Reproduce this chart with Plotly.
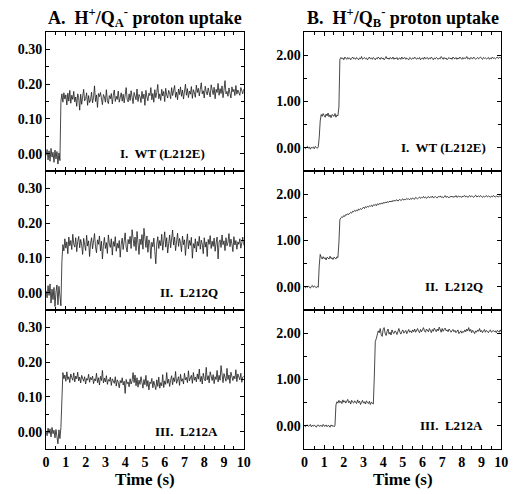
import numpy as np
import plotly.graph_objects as go

DT = 0.05  # sampling interval of the traces (s)

# ---- Panel A: H+/QA- proton uptake ----
qa_wt = [
    -0.005, 0.012, -0.018, 0.008, -0.022, 0.015, -0.010, 0.004, -0.025, 0.010, -0.015, 0.006, -0.030, 0.002, -0.020,
    0.150, 0.172, 0.148, 0.175, 0.157, 0.169, 0.140, 0.174, 0.151, 0.182,
    0.145, 0.168, 0.156, 0.179, 0.149, 0.163, 0.136, 0.172, 0.161, 0.125,
    0.171, 0.142, 0.166, 0.185, 0.152, 0.158, 0.175, 0.139, 0.167, 0.147,
    0.154, 0.177, 0.146, 0.162, 0.195, 0.150, 0.169, 0.133, 0.173, 0.164,
    0.176, 0.155, 0.141, 0.170, 0.163, 0.148, 0.184, 0.152, 0.144, 0.167,
    0.158, 0.173, 0.143, 0.168, 0.183, 0.150, 0.165, 0.156, 0.180, 0.148,
    0.162, 0.175, 0.151, 0.171, 0.146, 0.166, 0.190, 0.157, 0.149, 0.172,
    0.153, 0.181, 0.160, 0.144, 0.176, 0.168, 0.155, 0.186, 0.150, 0.170,
    0.164, 0.147, 0.179, 0.158, 0.171, 0.139, 0.182, 0.163, 0.152, 0.174,
    0.167, 0.190, 0.155, 0.173, 0.148, 0.184, 0.161, 0.176, 0.199, 0.158,
    0.172, 0.153, 0.185, 0.166, 0.179, 0.150, 0.188, 0.169, 0.160, 0.182,
    0.174, 0.158, 0.190, 0.167, 0.181, 0.196, 0.162, 0.177, 0.155, 0.186,
    0.170, 0.192, 0.165, 0.183, 0.157, 0.178, 0.200, 0.168, 0.187, 0.161,
    0.180, 0.171, 0.193, 0.159, 0.184, 0.175, 0.162, 0.197, 0.176, 0.188,
    0.166, 0.185, 0.204, 0.172, 0.181, 0.160, 0.194, 0.178, 0.169, 0.189,
    0.175, 0.163, 0.198, 0.182, 0.170, 0.191, 0.158, 0.185, 0.176, 0.202,
    0.168, 0.187, 0.173, 0.195, 0.161, 0.183, 0.210, 0.172, 0.179, 0.165,
    0.189, 0.174, 0.160, 0.192, 0.178, 0.185, 0.167, 0.196, 0.171, 0.183,
    0.176, 0.168, 0.190, 0.181, 0.172, 0.186,
]
qa_l212q = [
    0.005, -0.015, 0.020, -0.008, 0.025, -0.030, 0.010, -0.020, 0.015, -0.040, 0.002, 0.022, -0.035, 0.018, -0.010, -0.038,
    0.090, 0.138, 0.120, 0.155, 0.128, 0.146, 0.112, 0.160, 0.135, 0.150,
    0.124, 0.168, 0.140, 0.131, 0.158, 0.118, 0.147, 0.162, 0.129, 0.153,
    0.137, 0.110, 0.156, 0.143, 0.121, 0.165, 0.134, 0.149, 0.104, 0.142,
    0.158, 0.126, 0.145, 0.170, 0.132, 0.115, 0.152, 0.139, 0.163, 0.120,
    0.148, 0.097, 0.136, 0.159, 0.127, 0.144, 0.113, 0.166, 0.141, 0.130,
    0.155, 0.108, 0.147, 0.133, 0.161, 0.119, 0.142, 0.128, 0.150, 0.102,
    0.139, 0.157, 0.124, 0.146, 0.172, 0.131, 0.117, 0.153, 0.140, 0.162,
    0.127, 0.181, 0.145, 0.133, 0.160, 0.121, 0.176, 0.143, 0.110, 0.154,
    0.138, 0.167, 0.125, 0.185, 0.149, 0.130, 0.163, 0.116, 0.152, 0.141,
    0.098, 0.145, 0.132, 0.157, 0.119, 0.083, 0.140, 0.161, 0.127, 0.150,
    0.135, 0.168, 0.122, 0.147, 0.175, 0.131, 0.158, 0.114, 0.144, 0.166,
    0.129, 0.153, 0.180, 0.137, 0.160, 0.121, 0.148, 0.171, 0.133, 0.156,
    0.142, 0.118, 0.163, 0.138, 0.152, 0.107, 0.145, 0.169, 0.126, 0.150,
    0.136, 0.159, 0.099, 0.141, 0.128, 0.155, 0.117, 0.147, 0.134, 0.162,
    0.125, 0.151, 0.140, 0.112, 0.158, 0.131, 0.146, 0.104, 0.153, 0.139,
    0.164, 0.127, 0.148, 0.133, 0.157, 0.119, 0.143, 0.160, 0.097, 0.145,
    0.152, 0.130, 0.166, 0.138, 0.149, 0.121, 0.158, 0.135, 0.144, 0.170,
    0.132, 0.154, 0.140, 0.118, 0.161, 0.137, 0.150, 0.125, 0.146, 0.139,
    0.155, 0.128, 0.143, 0.160, 0.136,
]
qa_l212a = [
    0.002, -0.012, 0.010, -0.005, 0.008, -0.015, 0.012, -0.006, 0.004, -0.018, 0.006, -0.010, -0.035, 0.005, -0.020, 0.012,
    0.100, 0.170, 0.152, 0.163, 0.145, 0.172, 0.150, 0.158, 0.141, 0.166,
    0.155, 0.148, 0.169, 0.143, 0.160, 0.152, 0.171, 0.146, 0.157, 0.140,
    0.162, 0.150, 0.145, 0.158, 0.137, 0.153, 0.148, 0.165, 0.142, 0.156,
    0.149, 0.160, 0.138, 0.152, 0.146, 0.168, 0.141, 0.155, 0.134, 0.159,
    0.147, 0.176, 0.140, 0.154, 0.143, 0.161, 0.136, 0.150, 0.145, 0.157,
    0.133, 0.152, 0.146, 0.139, 0.158, 0.131, 0.149, 0.142, 0.126, 0.147,
    0.140, 0.155, 0.134, 0.145, 0.110, 0.150, 0.138, 0.143, 0.129, 0.152,
    0.137, 0.146, 0.170, 0.141, 0.163, 0.132, 0.155, 0.128, 0.148, 0.136,
    0.158, 0.140, 0.125, 0.150, 0.135, 0.162, 0.130, 0.147, 0.120, 0.143,
    0.138, 0.153, 0.126, 0.145, 0.133, 0.121, 0.149, 0.130, 0.157, 0.125,
    0.141, 0.132, 0.164, 0.127, 0.146, 0.136, 0.170, 0.139, 0.151, 0.130,
    0.148, 0.161, 0.135, 0.155, 0.144, 0.173, 0.139, 0.150, 0.158, 0.133,
    0.165, 0.145, 0.152, 0.137, 0.168, 0.149, 0.156, 0.141, 0.175, 0.146,
    0.153, 0.162, 0.139, 0.170, 0.148, 0.157, 0.143, 0.166, 0.151, 0.180,
    0.144, 0.159, 0.137, 0.168, 0.152, 0.146, 0.185, 0.149, 0.161, 0.140,
    0.172, 0.155, 0.147, 0.164, 0.138, 0.158, 0.150, 0.176, 0.143, 0.162,
    0.148, 0.190, 0.153, 0.141, 0.167, 0.156, 0.145, 0.182, 0.150, 0.163,
    0.139, 0.171, 0.158, 0.147, 0.160, 0.152, 0.178, 0.144, 0.166, 0.155,
    0.149, 0.168, 0.142, 0.157, 0.160,
]

# ---- Panel B: H+/QB- proton uptake ----
qb_wt = [
    0.00, -0.02, 0.01, 0.03, -0.01, 0.02, -0.03, 0.01, 0.00, 0.02, -0.02, 0.03, 0.01, -0.01, 0.02,
    0.22,
    0.58, 0.72, 0.68, 0.74, 0.70, 0.66, 0.73, 0.69, 0.75, 0.67, 0.71, 0.65, 0.72, 0.70, 0.68, 0.74, 0.66, 0.71, 0.69,
    0.88,
    1.91, 1.95, 1.92, 1.94, 1.90, 1.96, 1.93, 1.91, 1.95, 1.92,
    1.94, 1.90, 1.93, 1.96, 1.92, 1.94, 1.91, 1.95, 1.93, 1.90,
    1.94, 1.92, 1.97, 1.91, 1.93, 1.95, 1.92, 1.94, 1.90, 1.93,
    1.96, 1.92, 1.94, 1.91, 1.95, 1.93, 1.90, 1.94, 1.92, 1.96,
    1.93, 1.91, 1.95, 1.92, 1.94, 1.90, 1.93, 1.97, 1.92, 1.94,
    1.91, 1.95, 1.93, 1.92, 1.96, 1.91, 1.94, 1.92, 1.95, 1.90,
    1.93, 1.94, 1.91, 1.96, 1.92, 1.93, 1.95, 1.91, 1.94, 1.92,
    1.90, 1.95, 1.93, 1.91, 1.94, 1.92, 1.96, 1.93, 1.91, 1.94,
    1.92, 1.95, 1.90, 1.93, 1.94, 1.91, 1.96, 1.92, 1.93, 1.95,
    1.91, 1.94, 1.92, 1.96, 1.93, 1.90, 1.94, 1.92, 1.95, 1.93,
    1.91, 1.94, 1.92, 1.97, 1.93, 1.91, 1.95, 1.92, 1.94, 1.90,
    1.93, 1.95, 1.92, 1.94, 1.91, 1.96, 1.93, 1.92, 1.95, 1.91,
    1.94, 1.92, 1.96, 1.93, 1.91, 1.95, 1.92, 1.94, 1.93, 1.97,
    1.92, 1.94, 1.91, 1.95, 1.93, 1.92, 1.96, 1.94, 1.91, 1.93,
    1.95, 1.92, 1.94, 1.96, 1.93, 1.91, 1.95, 1.93, 1.94, 1.92,
    1.93, 1.95, 1.91, 1.94, 1.92, 1.96, 1.93, 1.94, 1.92, 1.95,
    1.96, 1.93, 1.95, 1.94, 1.95,
]
qb_l212q = [
    0.00, -0.02, 0.01, -0.01, 0.02, 0.00, -0.03, 0.01, 0.03, -0.01, 0.02, 0.00, -0.02, 0.01, -0.01,
    0.45,
    0.70, 0.64, 0.60, 0.65, 0.61, 0.63, 0.58, 0.64, 0.62, 0.60, 0.66, 0.61, 0.63, 0.59, 0.64, 0.62, 0.60, 0.65, 0.63,
    0.95,
    1.45,
    1.49, 1.51, 1.50, 1.54, 1.52, 1.56, 1.55, 1.58, 1.56, 1.59,
    1.61, 1.59, 1.63, 1.62, 1.65, 1.63, 1.66, 1.64, 1.68, 1.66,
    1.69, 1.67, 1.70, 1.72, 1.69, 1.73, 1.71, 1.74, 1.72, 1.75,
    1.74, 1.76, 1.73, 1.77, 1.76, 1.78, 1.75, 1.79, 1.77, 1.80,
    1.78, 1.81, 1.79, 1.82, 1.80, 1.83, 1.81, 1.84, 1.82, 1.83,
    1.85, 1.83, 1.86, 1.84, 1.87, 1.85, 1.86, 1.88, 1.85, 1.87,
    1.89, 1.86, 1.88, 1.90, 1.87, 1.89, 1.88, 1.91, 1.89, 1.90,
    1.88, 1.91, 1.89, 1.92, 1.90, 1.89, 1.93, 1.91, 1.90, 1.92,
    1.94, 1.91, 1.93, 1.92, 1.95, 1.92, 1.94, 1.91, 1.93, 1.95,
    1.92, 1.94, 1.93, 1.96, 1.92, 1.94, 1.95, 1.93, 1.92, 1.95,
    1.94, 1.96, 1.93, 1.95, 1.92, 1.94, 1.97, 1.93, 1.95, 1.94,
    1.92, 1.95, 1.94, 1.96, 1.93, 1.95, 1.94, 1.97, 1.93, 1.95,
    1.96, 1.94, 1.95, 1.93, 1.96, 1.95, 1.97, 1.94, 1.96, 1.93,
    1.95, 1.97, 1.94, 1.96, 1.95, 1.93, 1.96, 1.98, 1.94, 1.95,
    1.96, 1.94, 1.97, 1.95, 1.93, 1.96, 1.94, 1.95, 1.97, 1.94,
    1.96, 1.95, 1.93, 1.96, 1.94, 1.97, 1.95, 1.94, 1.96, 1.95,
    1.94, 1.96, 1.95, 1.97,
]
qb_l212a = [
    0.00, -0.02, 0.01, 0.02, -0.01, 0.00, 0.03, -0.02, 0.01, -0.01, 0.02, 0.00, -0.03, 0.01, 0.02, -0.01,
    0.00, 0.01, -0.02, 0.03, 0.00, -0.01, 0.02, -0.02, 0.01, 0.00, -0.03, 0.02, -0.01, 0.01, -0.02, 0.00,
    0.45, 0.52, 0.49, 0.55, 0.50, 0.53, 0.48, 0.56, 0.51, 0.54, 0.49, 0.52, 0.57, 0.50, 0.53, 0.47, 0.55, 0.51, 0.49, 0.54,
    0.52, 0.48, 0.56, 0.50, 0.53, 0.46, 0.51, 0.55, 0.49, 0.52, 0.47, 0.54, 0.50, 0.48, 0.53, 0.46, 0.51, 0.49, 0.47,
    1.05,
    1.82,
    1.88, 1.98, 2.05, 2.01, 2.10, 1.97, 1.93, 2.08, 2.12, 2.00,
    1.95, 2.04, 2.09, 1.98, 2.02, 1.96, 2.07, 2.01, 1.99, 2.05,
    2.03, 1.97, 2.06, 2.10, 2.02, 1.98, 2.04, 2.07, 2.00, 2.03,
    2.06, 1.99, 2.04, 2.08, 2.02, 2.05, 2.01, 2.07, 2.03, 2.09,
    2.02, 2.06, 2.10, 2.04, 2.01, 2.08, 2.03, 2.07, 2.12, 2.05,
    2.02, 2.09, 2.06, 2.03, 2.10, 2.05, 2.01, 2.08, 2.04, 2.11,
    2.07, 2.03, 2.09, 2.05, 2.13, 2.06, 2.02, 2.10, 2.04, 2.08,
    2.11, 2.05, 2.07, 2.03, 2.09, 2.06, 2.02, 2.05, 2.08, 2.03,
    2.06, 2.01, 2.04, 2.07, 1.99, 2.03, 2.05, 2.00, 2.04, 2.02,
    2.07, 2.03, 2.09, 2.05, 2.12, 2.04, 2.08, 2.01, 2.06, 2.03,
    1.99, 2.05, 2.02, 2.07, 2.04, 2.10, 2.03, 2.06, 2.01, 2.05,
    2.08, 2.02, 2.06, 2.04, 2.01, 2.05, 2.07, 2.02, 2.04, 2.06,
    2.03, 2.05, 2.01, 2.06, 2.04, 2.02, 2.07, 2.03,
]

panel_labels_a = ["I.  WT (L212E)", "II.  L212Q", "III.  L212A"]
panel_labels_b = ["I.  WT (L212E)", "II.  L212Q", "III.  L212A"]
title_a = "A.  H<sup>+</sup>/Q<sub>A</sub><sup>-</sup> proton uptake"
title_b = "B.  H<sup>+</sup>/Q<sub>B</sub><sup>-</sup> proton uptake"
x_title = "Time (s)"
x_ticks = list(range(0, 11))
ya_ticks = [0.0, 0.1, 0.2, 0.3]
yb_ticks = [0.0, 1.0, 2.0]

W, H = 517, 494
FONT = "Liberation Serif"

def px_x(p):
    return p / W

def px_y(p):
    return 1 - p / H

col_dom = [[px_x(43), px_x(245)], [px_x(307), px_x(508)]]
row_px = [(32, 171), (171, 310), (310, 449)]
row_dom = [[px_y(b), px_y(t)] for t, b in row_px]
# label anchor (right edge, in data x) per [row][col]
label_right = [[8.15, 9.35], [8.8, 9.2], [8.8, 9.2]]

fig = go.Figure()
series = [[qa_wt, qb_wt], [qa_l212q, qb_l212q], [qa_l212a, qb_l212a]]
labels = [panel_labels_a, panel_labels_b]

tickfont = dict(family=FONT, size=14, color="black", weight="bold")
idx = 0
for r in range(3):
    for c in range(2):
        idx += 1
        xa = "x" if idx == 1 else f"x{idx}"
        ya = "y" if idx == 1 else f"y{idx}"
        ys = series[r][c]
        t = np.arange(len(ys)) * DT
        fig.add_trace(go.Scatter(x=t, y=ys, mode="lines",
                                 line=dict(color="#1a1a1a", width=0.8),
                                 xaxis=xa, yaxis=ya, showlegend=False,
                                 hoverinfo="skip"))
        xkey = "xaxis" if idx == 1 else f"xaxis{idx}"
        ykey = "yaxis" if idx == 1 else f"yaxis{idx}"
        xdict = dict(
            domain=col_dom[c], anchor=ya, range=[0, 10],
            tickmode="array", tickvals=x_ticks, ticklabeloverflow="allow",
            showticklabels=(r == 2), ticks="inside", ticklen=4, tickwidth=1,
            tickcolor="black", minor=dict(dtick=0.5, ticks="inside", ticklen=3, tickcolor="black"),
            showline=True, linecolor="black", linewidth=1, mirror="allticks",
            showgrid=False, zeroline=False, tickfont=tickfont,
        )
        if r == 2:
            xdict["title"] = dict(text=x_title,
                                  font=dict(family=FONT, size=17, color="black", weight="bold"),
                                  standoff=2)
        fig.layout[xkey] = xdict
        if c == 0:
            yr, yt, ymin = [-0.05, 0.35], ya_ticks, 0.05
        else:
            yr, yt, ymin = [-0.5, 2.5], yb_ticks, 0.5
        ttxt = [f"{v:.2f}" for v in yt]
        fig.layout[ykey] = dict(
            domain=row_dom[r], anchor=xa, range=yr,
            tickmode="array", tickvals=yt, ticktext=ttxt, ticklabeloverflow="allow",
            ticks="inside", ticklen=4, tickwidth=1, tickcolor="black",
            minor=dict(dtick=ymin, ticks="inside", ticklen=3, tickcolor="black"),
            showline=True, linecolor="black", linewidth=1, mirror="allticks",
            showgrid=False, zeroline=False, tickfont=tickfont,
        )
        fig.add_annotation(x=label_right[r][c], y=0.0, xref=xa, yref=ya, text=labels[c][r],
                           showarrow=False, xanchor="right", yanchor="middle",
                           font=dict(family=FONT, size=13, color="black", weight="bold"))

fig.add_annotation(x=(col_dom[0][0] + col_dom[0][1]) / 2, y=px_y(17), xref="paper", yref="paper",
                   text=title_a, showarrow=False, xanchor="center", yanchor="middle",
                   font=dict(family=FONT, size=18, color="black", weight="bold"))
fig.add_annotation(x=(col_dom[1][0] + col_dom[1][1]) / 2, y=px_y(17), xref="paper", yref="paper",
                   text=title_b, showarrow=False, xanchor="center", yanchor="middle",
                   font=dict(family=FONT, size=18, color="black", weight="bold"))

fig.update_layout(width=W, height=H, margin=dict(l=0, r=0, t=0, b=0),
                  paper_bgcolor="white", plot_bgcolor="white")
fig.write_html("out.html", config={"displayModeBar": False},
               post_script="document.body.style.margin='0';")
